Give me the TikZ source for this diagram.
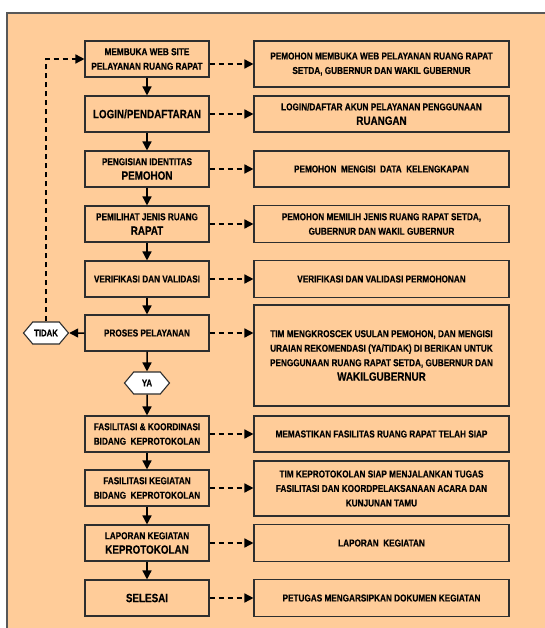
\documentclass[tikz,border=0pt]{standalone}
\usepackage{fontspec}
\setmainfont[FakeStretch=0.82, BoldFeatures={FakeBold=0.4}]{Liberation Sans}
\usetikzlibrary{arrows.meta,shapes.symbols}
\definecolor{peach}{HTML}{FFCC99}
\definecolor{edge}{HTML}{2E2E2E}
\newcommand{\bigtxt}{\fontsize{12}{14.5}\selectfont}
\tikzset{
  box/.style={draw=edge, line width=1.1pt, fill=peach, align=center, inner sep=2pt,
    font=\bfseries\fontsize{10}{14.5}\selectfont},
  stepbox/.style={box, minimum width=124pt, minimum height=36pt},
  notebox/.style={box, minimum width=255pt, minimum height=37pt},
  choice/.style={draw=edge, line width=1.1pt, fill=white, shape=signal,
    signal to=west and east, signal pointer angle=100, minimum width=45pt,
    minimum height=22pt, inner sep=1pt, font=\bfseries\fontsize{9.5}{10}\selectfont},
  flow/.style={-{Triangle[length=9pt,width=9pt]}, line width=1.5pt},
  note/.style={flow, dash pattern=on 5pt off 4pt},
}
\begin{document}
\begin{tikzpicture}[x=1pt,y=-1pt]
  \clip (0,0) rectangle (545,628);
  \draw[draw=edge!80, line width=1.5pt, fill=peach] (7,13) rectangle (570,660);

  % alur utama
  \node[stepbox] (membuka) at (147,59) {MEMBUKA WEB SITE\\PELAYANAN RUANG RAPAT};
  \node[stepbox] (login) at (147,114) {\bigtxt LOGIN/PENDAFTARAN};
  \node[stepbox] (identitas) at (147,169) {PENGISIAN IDENTITAS\\{\bigtxt PEMOHON}};
  \node[stepbox] (jenis) at (147,224) {PEMILIHAT JENIS RUANG\\{\bigtxt RAPAT}};
  \node[stepbox] (verifikasi) at (147,279) {VERIFIKASI DAN VALIDASI};
  \node[stepbox] (proses) at (147,333) {PROSES PELAYANAN};
  \node[choice] (tidak) at (46,333) {TIDAK};
  \node[choice] (ya) at (147,383) {YA};
  \node[stepbox] (koordinasi) at (147,434) {FASILITASI \& KOORDINASI\\BIDANG \ KEPROTOKOLAN};
  \node[stepbox] (kegiatan) at (147,488) {FASILITASI KEGIATAN\\BIDANG \ KEPROTOKOLAN};
  \node[stepbox] (laporan) at (147,543) {LAPORAN KEGIATAN\\{\bigtxt KEPROTOKOLAN}};
  \node[stepbox] (selesai) at (147,598) {\bigtxt SELESAI};

  % keterangan
  \node[notebox, minimum height=46pt] (web) at (381.5,64) {PEMOHON MEMBUKA WEB PELAYANAN RUANG RAPAT\\SETDA, GUBERNUR DAN WAKIL GUBERNUR};
  \node[notebox, minimum height=36pt] (akun) at (381.5,114) {LOGIN/DAFTAR AKUN PELAYANAN PENGGUNAAN\\{\bigtxt RUANGAN}};
  \node[notebox, minimum height=36pt] (data) at (381.5,169) {PEMOHON \ MENGISI \ DATA \ KELENGKAPAN};
  \node[notebox] (pilih) at (381.5,224) {PEMOHON MEMILIH JENIS RUANG RAPAT SETDA,\\GUBERNUR DAN WAKIL GUBERNUR};
  \node[notebox] (permohonan) at (381.5,279) {VERIFIKASI DAN VALIDASI PERMOHONAN};
  \node[notebox, minimum height=101pt] (tim) at (381.5,355.5) {TIM MENGKROSCEK USULAN PEMOHON, DAN MENGISI\\URAIAN REKOMENDASI (YA/TIDAK) DI BERIKAN UNTUK\\PENGGUNAAN RUANG RAPAT SETDA, GUBERNUR DAN\\{\bigtxt WAKILGUBERNUR}};
  \node[notebox, minimum height=36pt] (siap) at (381.5,434) {MEMASTIKAN FASILITAS RUANG RAPAT TELAH SIAP};
  \node[notebox, minimum height=55pt] (tugas) at (381.5,488.5) {TIM KEPROTOKOLAN SIAP MENJALANKAN TUGAS\\FASILITASI DAN KOORDPELAKSANAAN ACARA DAN\\KUNJUNAN TAMU};
  \node[notebox] (lap) at (381.5,543) {LAPORAN \ KEGIATAN};
  \node[notebox] (arsip) at (381.5,598) {PETUGAS MENGARSIPKAN DOKUMEN KEGIATAN};

  \foreach \a/\b in {membuka/login, login/identitas, identitas/jenis, jenis/verifikasi,
      verifikasi/proses, proses/ya, ya/koordinasi, koordinasi/kegiatan,
      kegiatan/laporan, laporan/selesai}
    \draw[flow] (\a) -- (\b);
  \draw[flow] (proses) -- (tidak);
  \draw[note] (tidak) |- (membuka);

  \draw[note] (membuka.east |- web.west) -- (web.west);
  \foreach \a/\b in {login/akun, identitas/data, jenis/pilih, verifikasi/permohonan,
      proses/tim, koordinasi/siap, kegiatan/tugas, laporan/lap, selesai/arsip}
    \draw[note] (\a) -- (\a -| \b.west);
\end{tikzpicture}
\end{document}
